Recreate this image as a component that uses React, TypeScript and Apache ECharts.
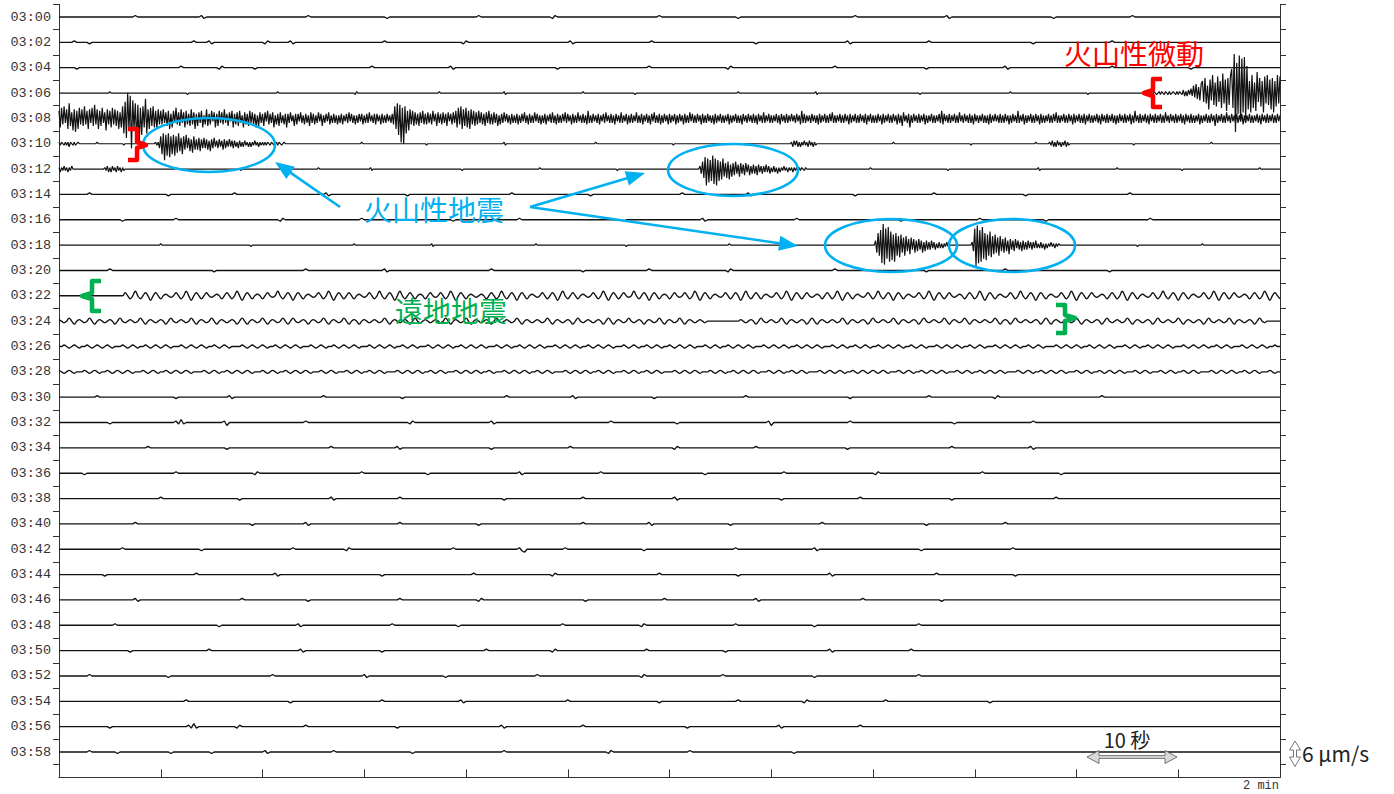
import React, { useEffect, useRef } from "react";
import * as echarts from "echarts";

// ---- DATA ---------------------------------------------------------------
// One trace every 2 minutes, 03:00 … 03:58
const TIME_LABELS = [
  "03:00", "03:02", "03:04", "03:06", "03:08", "03:10", "03:12", "03:14", "03:16", "03:18",
  "03:20", "03:22", "03:24", "03:26", "03:28", "03:30", "03:32", "03:34", "03:36", "03:38",
  "03:40", "03:42", "03:44", "03:46", "03:48", "03:50", "03:52", "03:54", "03:56", "03:58",
];

// Each trace covers 120 s. Samples read from the record, encoded as:
// '.' = 0, 'A'..'Z' = +1..+26 (upward), 'a'..'z' = -1..-26 (downward);
// a number after a character repeats it.
const TRACE_SECONDS = 120;
// samples per second of each trace (busy traces were read at a finer step)
const TRACE_RATES = [
  4, 4, 4, 8, 8, 8, 8, 4, 4, 8,
  4, 4, 4, 4, 4, 4, 4, 4, 4, 4,
  4, 4, 4, 4, 4, 4, 4, 4, 4, 4,
];

const T0300 = ".30A.25Aa.40A.30a.35A.28aA.40A.30a.45A.35Aa.40a.30A.40";
const T0302 = ".6A.5a.40A.5Aa.20aA.8Aa.35A.30aA.40Aa.30A.40a.35Aa.30A.40a.30A.40";
const T0304 = ".7a.40A.14aA.12a.45A.30Aa.40a.35A.30aA.40A.35a.30Aa.40A.30a.40";
const T0306 = [
  ".40A.60a.70A.60aA.64A.50Aa.60A.40a.80A.60Aa.80a.70A.60a.48",
  "A.aA.a.AaA.aA.aAa.A.aAaA.a", "BbAbBaCb", "EcFdDeF",
  "HfJgEkIeLhGiKfHjMgIlJhK", "PjZzTnYsWmXqR", "kHmLjGlNfJiHmKgLhIkJmHiLgK",
].join("");
const T0308 = [
  "EfGdHcFgJe", "DhFiEgGdFe", "HdEgFcGeId", "FgEeGcDhFd", "EfGdFeEgDf",
  "HjKmQhOtLg", "JpIrGkHfMj", "FgGeHfEgFd", "EdFcDeEgCf", "EcGdDeFcDf",
  "EdCeFdDgCe", "DcEfBdFeCd", "EbDfCeEcDd", "FcCeDbEfCd", "DeEcBfDdCe",
  "EcDdCfBeDc", "CeDbEdCcDf", "BdCeDcBdCf", "CcDbBeCdCb", "DcBdCcBeDc",
  "CdBcDbCeBc", "CbDdBcCcBd", "BcCdBbCcDb", "CcBdBcCbCd", "BcCcDbBcCd",
  "CbBdCcBcCb", "BcCdHgJkIp", "GqHjEhFdEe", "DdCeDcEdCd", "DcCdEbCeDc",
  "CdDcCeDbCd", "DcEfGdHgFe", "GfEgFdEeDd", "EcDdCeDcEd", "CdDcCeBdCc",
  "DbCcBdCcBc", "CdBcCbDcBd", "CcBcDbCcBd", "BcCdBbCcDc", "BdCcBcCbDc",
  "CbBdCcBcDb", "BcCcBdEcBc", "CbBcCdBbCc", "DbBcCcBdCb", "BcDcBbCdBc",
  "CcBbDcBcCd", "BbCcBdCbDc", "BcCdBcCbBd", "CcBbCdBcCb", "BdCcBcDbCc",
  "BcCbBdCcBc", "CbBcBdCcBb", "CcBcBbCdBc", "BbCcBcBdCb", "BcCbBcCcBd",
  "CbBcDcBbCc", "BcBbCcBdCb", "BcCcBbCbBc", "CbBdEcCcBb", "BcCbBcBdCc",
  "BbCcBcCbDc", "BcBbCcBcCb", "BdCcBbCcBc", "CbBcCdBbCc", "BcBcCbBdCc",
  "BbCcBcCbBd", "CcBeDbBcCf", "BcCbBcCcBb", "CdBcBbCcBc", "BbCcEdCbBc",
  "CcBbCcBcDb", "BcCbBcCcBd", "CbBcBbCcBc", "BdCcBbCbBc", "CcBcCbBdBc",
  "CbBcEcBbCd", "BcBbCcBcCb", "BdCcBcBbCc", "BcCbDcBcBb", "CcBcCbBdCc",
  "BbCcBcCdBb", "CcBcBbCcBd", "CbBcCcBbCc", "BdBcCbBcCc", "BbCdBcEbBc",
  "CcBbCcBdCb", "BcCcBbCcBc", "DbBcCbBcCc", "BbCcBdCbBc", "CcBcBbCdBc",
  "BbCcBcCbBe", "CcBbCcBcDb", "BcCbBcCcBb", "CdBcBbCcBc", "BbCcBdCbBc",
  "CcBbCcBcCb", "B",
].join("");
const T0310 = [
  "AaA.aAaAbA.aAa.A", ".14A.20a.24Aa",
  "AcEgGkFhGiEg", "FhEfGeDgEdFc", "DeCfEdCdDeCc", "DcCdBeCcDbBc",
  "CbBdCcBbCbBc", "BbAcBbAbBaAb", "AbAaBaAbAaAa", "AaA.aA.a.AaA.a.A",
  ".60A.50a.60Aa.70A.60a.92", "AbBaBbAbAaBaAbBaAbAa",
  ".60A.60a.50A.10", "AaBbAbBaAbAaBbAa", ".50a.60A.65",
].join("");
const T0312 = [
  "AbAaBaAbAaB.", ".24", "AaBbAbBaAbBaAbAa",
  ".40A.50a.60A.40Aa.70a.60A.60a.64",
  "BcEfHkGiFhIjGk", "FhEgGeDfEgCe", "DdEcCeDcCdDb", "CdBcCcBdCbBc",
  "BbCbBcAbBbAc", "AbAaBaAbAaAb", "AaAbAaA.aA",
  ".50A.60a.70Aa.60A.50a.60A.11",
].join("");
const T0314 = ".12A.30a.25A.35Aa.30a.40A.30a.35A.25Aa.40a.30A.35a.40A.30";
const T0316 = ".25a.20A.40aA.30A.35a.25A.40a.30Aa.35A.40a.30A.25a.40A.30";
const T0318 = [
  ".80A.70a.80A.60Aa.80A.70a.80A.114",
  "CeHgJlNmKiLk", "IjGkHgFhGe", "EgFdDfEcDe", "CdDcCeBdCc", "BcCbBcAbBb", "AbAaBa",
  ".18",
  "BdKnMlJkLiHj", "GgIhFfGeEgFd", "DeEdCfDcCdDb", "CcBdCcBcCbBc", "BbCbAbBbAcAb", "AaBaAbAaA.",
  ".60a.50A.62",
].join("");
const T0320 = ".20A.40a.35A.30Aa.40A.35a.25A.30aA.40A.35a.30A.40a.30";
const T0322 = [
  ".26",
  "B.b.C.b.B.c.B.b.A.a.B.b.C.c.B.b.B.a.A.b.",
  "B.b.C.c.B.b.A.b.B.a.C.b.B.c.B.b.A.a.B.b.",
  "C.c.B.b.B.b.A.a.B.b.C.b.B.c.C.b.B.b.A.b.",
  "B.a.B.b.C.c.B.b.A.a.A.b.B.b.C.b.B.c.B.b.",
  "A.a.B.b.B.c.C.b.B.b.A.a.B.b.C.c.B.b.B.a.",
  "C.b.B.c.B.b.A.b.B.a.B.b.C.c.B.b.A.a.B.b.",
  "B.c.C.b.B.b.A.a.B.b.C.c.B.b.B.a.A.b.B.b.",
  "C.c.B.b.A.a.B.b.C.b.B.c.B.b.A.a.B.b.C.c.",
  "B.b.B.a.A.b.B.b.C.c.B.b.A.a.B.b.C.b.B.c.",
  "B.b.A.a.B.b.C.c.B.b.B.a.A.b.B.b.C.c.B.b.",
  "A.a.B.b.C.b.B.c.B.b.A.a.B.b.C.c.B.b.B.a.",
  "A.b.B.b.C.c.B.b",
].join("");
const T0324 = [
  "A.a.B.b.A.a.B.b.A.a.A.b.B.a.A.a.B.b.A.a.",
  "A.b.B.a.A.a.B.b.A.a.B.b.A.a.A.b.B.b.A.a.",
  "B.b.A.a.B.b.B.a.A.b.A.a.B.b.A.a.B.b.A.b.",
  "A.a.A.a.B.b.A.a.A.b.B.a.A.a.A.a.B.b.A.a.",
  "B.b.A.a.A.b.B.a.A.a.B.b.A.a.A.a.B.b.A.a.",
  "A.b.B.a.A.a.A.b.B.b.A.a.B.a.A.b.A.a.B.b.",
  "A.a.B.b.A.a.A.a..12A.a.A.b.",
  "B.a.A.a.B.b.A.a.A.b.B.b.A.a.A.a.B.b.A.a.",
  "A.b.B.a.A.a.B.b.A.a.A.b.B.a.A.a.B.b.A.a.",
  "B.b.A.a.A.a.B.b.A.b.B.a.A.a.A.b.B.b.A.a.",
  "A.a.B.b.A.a.A.b.B.a.A.a.B.b.A.a.A.b.B.a.",
  "A.a.B.b.A.a.A.b.B.a.A.a.B.b.A.a.A.b.B.a.",
].join("");
const T0326 = [
  "..A.a.A.a..A.a.A.a.A.a...A.a.A.a..A.a.A.",
  "a.A.a...A.a.A.a.A.a..A.a.A.a....A.a.A.a.",
  "A.a..A.a.A.a.A.a...A.a.A.a..A.a.A.a.A.a.",
  "..A.a.A.a.A.a..A.a.A.a...A.a.A.a.A.a..A.",
  "a.A.a.A.a...A.a.A.a..A.a.A.a.A.a...A.a.A",
  ".a.A.a..A.a.A.a.A.a...A.a.A.a..A.a.A.a..",
  "A.a.A.a.A.a...A.a.A.a..A.a.A.a.A.a...A.a",
  ".A.a.A.a..A.a.A.a.A.a...A.a.A.a..A.a.A.a",
  "..A.a.A.a.A.a..A.a.A.a...A.a.A.a.A.a..A.",
  "a.A.a...A.a.A.a.A.a..A.a.A.a....A.a.A.a.",
  "A.a..A.a.A.a.A.a...A.a.A.a..A.a.A.a.A.a.",
  "..A.a.A.a.A.a..A.a.A.a...A.a.A.a.A.a..A.",
].join("");
const T0328 = [
  "A.a.A.a...A.a.A.a..A.a.A.a.A.a...A.a.A.a",
  "..A.a.A.a.A.a....A.a.A.a..A.a.A.a.A.a...",
  "A.a.A.a..A.a.A.a.A.a...A.a.A.a...A.a.A.a",
  "..A.a.A.a....A.a.A.a.A.a..A.a.A.a...A.a.",
  "A.a.A.a..A.a...A.a.A.a.A.a..A.a.A.a....A",
  ".a.A.a.A.a..A.a.A.a...A.a.A.a..A.a.A.a..",
  "..A.a.A.a.A.a...A.a.A.a..A.a.A.a.A.a...A",
  ".a.A.a..A.a.A.a....A.a.A.a.A.a..A.a.A.a.",
  "A.a.A.a...A.a.A.a..A.a.A.a.A.a...A.a.A.a",
  "..A.a.A.a.A.a....A.a.A.a..A.a.A.a.A.a...",
  "A.a.A.a..A.a.A.a.A.a...A.a.A.a...A.a.A.a",
  "..A.a.A.a....A.a.A.a.A.a..A.a.A.a...A.a.",
].join("");
const T0330 = ".15A.30a.20Aa.35A.30a.40A.25Aa.30a.35A.40a.30A.25aA.40A.30";
const T0332 = ".20a.25AaBa.15Ab.30A.40aA.30Aa.45A.25a.35Ab.30A.40a.30A.40";
const T0334 = ".35A.30a.40A.25Aa.35a.30A.40aA.30A.35a.40A.30Aa.40";
const T0336 = ".10a.35A.30aA.40A.25a.35Aa.30A.40a.30A.35aA.40A.30a.40";
const T0338 = ".40A.30a.35Aa.25A.40a.30A.35Aa.40a.30A.35a.40A.30";
const T0340 = ".30A.45a.20Aa.35A.30a.40A.25Aa.30a.35A.40a.30A.40";
const T0342 = ".25A.30a.35A.20aA.40A.25Aab.15A.30a.35A.30Aa.40a.35A.30";
const T0344 = ".18a.35A.30Aa.40a.35A.30aA.40A.30a.35Aa.40A.30a.40";
const T0346 = ".30Aa.40A.25a.35A.30aA.40a.30A.35Aa.40A.30a.35";
const T0348 = ".22A.40a.30Aa.35A.25a.40A.30aA.35A.30a.40A.35";
const T0350 = ".28a.30A.35Aa.30a.40A.25aA.35A.30a.40Aa.30A.40";
const T0352 = ".12A.30a.40A.35Aa.30a.35A.40aA.30A.35a.40A.30";
const T0354 = ".50A.40a.35A.30Aa.40A.35a.30A.25aA.30A.40a.30";
const T0356 = ".20a.30AaBa.15aA.25A.35a.40Aa.30A.40a.35Aa.30A.40";
const T0358 = ".12A.10a.20a.15a.20Aa.25A.30a.35A.40aA.30A.40a.30";

const TRACES = [
  T0300, T0302, T0304, T0306, T0308, T0310, T0312, T0314, T0316, T0318,
  T0320, T0322, T0324, T0326, T0328, T0330, T0332, T0334, T0336, T0338,
  T0340, T0342, T0344, T0346, T0348, T0350, T0352, T0354, T0356, T0358,
];

// ---- LAYOUT / STYLE -----------------------------------------------------
const W = 1394;
const H = 794;
const PLOT_LEFT = 59;
const PLOT_RIGHT = 1280;
const TRACE0_Y = 17;
const SPACING = 25.345;
const AMP_UNIT = 1.5 / SPACING; // one amplitude step ≈ 1.5 px
const MONO = '"Liberation Mono", "DejaVu Sans Mono", monospace';
const CJK = '"Noto Sans CJK JP", "Noto Sans", sans-serif';
const RED = "#ff0000";
const BLUE = "#00b0f0";
const GREEN = "#00b050";
const AXIS = "#333333";
const INK = "#121212";
const WAVY_TRACES = ["03:22", "03:24", "03:26", "03:28"];

function decode(s: string): number[] {
  const out: number[] = [];
  let i = 0;
  while (i < s.length) {
    const c = s[i];
    let j = i + 1;
    let num = "";
    while (j < s.length && s[j] >= "0" && s[j] <= "9") {
      num += s[j];
      j++;
    }
    const n = num ? parseInt(num, 10) : 1;
    let v = 0;
    if (c >= "A" && c <= "Z") v = c.charCodeAt(0) - 64;
    else if (c >= "a" && c <= "z") v = -(c.charCodeAt(0) - 96);
    for (let k = 0; k < n; k++) out.push(v);
    i = j;
  }
  return out;
}

function arrow(x1: number, y1: number, x2: number, y2: number, color: string) {
  const dx = x2 - x1;
  const dy = y2 - y1;
  const len = Math.hypot(dx, dy);
  const ux = dx / len;
  const uy = dy / len;
  const hl = 19;
  const hw = 7.5;
  const bx = x2 - ux * hl;
  const by = y2 - uy * hl;
  return [
    {
      type: "line",
      z: 100,
      shape: { x1, y1, x2: bx + ux * 2, y2: by + uy * 2 },
      style: { stroke: color, lineWidth: 2.6 },
    },
    {
      type: "polygon",
      z: 100,
      shape: {
        points: [
          [x2, y2],
          [bx - uy * hw, by + ux * hw],
          [bx + uy * hw, by - ux * hw],
        ],
      },
      style: { fill: color },
    },
  ];
}

function brace(points: number[][], color: string) {
  return {
    type: "polyline",
    z: 100,
    shape: { points },
    style: { stroke: color, lineWidth: 4.5, fill: "none", lineJoin: "round", lineCap: "butt" },
  };
}

function ellipse(cx: number, cy: number, rx: number, ry: number) {
  return {
    type: "ellipse",
    z: 100,
    shape: { cx, cy, rx, ry },
    style: { stroke: BLUE, lineWidth: 2.6, fill: "none" },
  };
}

function text(x: number, y: number, t: string, font: string, fill: string, align = "center") {
  return {
    type: "text",
    z: 110,
    x,
    y,
    style: { text: t, font, fill, align, verticalAlign: "middle" },
  };
}

export default function App() {
  const ref = useRef<HTMLDivElement>(null);

  useEffect(() => {
    if (!ref.current) return;
    const chart = echarts.init(ref.current, undefined, { renderer: "svg" });

    const gridTop = TRACE0_Y - 0.5 * SPACING;
    const plotW = PLOT_RIGHT - PLOT_LEFT;

    const series = TRACES.map((s, i) => {
      const v = decode(s);
      const rate = TRACE_RATES[i];
      const n = TRACE_SECONDS * rate;
      const data: number[][] = [];
      for (let k = 0; k <= n; k++) {
        const a = k < v.length ? v[k] : 0;
        data.push([k / rate, i - a * AMP_UNIT]);
      }
      const label = TIME_LABELS[i];
      const wavy = WAVY_TRACES.indexOf(label) >= 0;
      return {
        type: "line",
        name: label,
        xAxisIndex: 0,
        yAxisIndex: 0,
        data,
        showSymbol: false,
        symbol: "none",
        silent: true,
        clip: false,
        smooth: wavy ? 0.45 : false,
        lineStyle: { color: INK, width: rate > 4 ? 1.2 : 1.35 },
        z: 2,
      };
    });

    const hollowH = {
      type: "polygon",
      z: 100,
      shape: {
        points: [
          [1087, 757], [1099, 750.5], [1099, 755.6], [1165, 755.6], [1165, 750.5],
          [1177, 757], [1165, 763.5], [1165, 758.4], [1099, 758.4], [1099, 763.5],
        ],
      },
      style: { fill: "#d9d9d9", stroke: "#555", lineWidth: 0.8 },
    };
    const hollowV = {
      type: "polygon",
      z: 100,
      shape: {
        points: [
          [1295, 741], [1300.5, 750], [1296.5, 750], [1296.5, 757], [1300.5, 757],
          [1295, 766.5], [1289.5, 757], [1293.5, 757], [1293.5, 750], [1289.5, 750],
        ],
      },
      style: { fill: "#ffffff", stroke: "#555", lineWidth: 0.8 },
    };

    const graphics: any[] = [
      ellipse(209, 145, 66, 27),
      ellipse(733, 170, 65, 26),
      ellipse(891, 245.5, 66, 26.5),
      ellipse(1012, 245.5, 63, 26.5),
      ...arrow(340, 207, 275, 162, BLUE),
      ...arrow(530, 207, 645, 173, BLUE),
      ...arrow(530, 207, 798, 246, BLUE),
      brace([[128, 129], [137, 129], [137, 142], [146, 145], [137, 148], [137, 160], [128, 160]], RED),
      brace([[1162, 79], [1153, 79], [1153, 90], [1144, 93], [1153, 96], [1153, 107], [1162, 107]], RED),
      brace([[101, 281], [92, 281], [92, 293], [82, 296], [92, 299], [92, 311], [101, 311]], GREEN),
      brace([[1056, 305], [1065, 305], [1065, 315], [1075, 318], [1065, 321], [1065, 333], [1056, 333]], GREEN),
      text(1134, 53, "火山性微動", `28px ${CJK}`, RED),
      text(434, 209, "火山性地震", `28px ${CJK}`, BLUE),
      text(451, 310, "遠地地震", `28px ${CJK}`, GREEN),
      hollowH,
      hollowV,
      text(1127, 739, "10 秒", `20px ${CJK}`, "#222"),
      text(1302, 753, "6 μm/s", `21px ${CJK}`, "#222", "left"),
      text(1279, 786, "2 min", `12px ${MONO}`, AXIS, "right"),
    ];

    const option: any = {
      animation: false,
      backgroundColor: "#ffffff",
      grid: [
        { left: PLOT_LEFT, width: plotW, top: gridTop, height: 30.5 * SPACING },
        { left: PLOT_LEFT, width: plotW, top: gridTop, height: 30 * SPACING },
      ],
      xAxis: [
        {
          type: "value",
          gridIndex: 0,
          position: "bottom",
          min: 0,
          max: 120,
          interval: 10,
          axisLine: { show: true, onZero: false, lineStyle: { color: AXIS, width: 1 } },
          axisTick: { show: true, inside: true, length: 8, lineStyle: { color: AXIS } },
          axisLabel: { show: false },
          splitLine: { show: false },
        },
        { type: "value", gridIndex: 1, min: 0, max: 120, show: false },
      ],
      yAxis: [
        {
          type: "value",
          gridIndex: 0,
          position: "left",
          min: -0.5,
          max: 30,
          inverse: true,
          axisLine: { show: true, onZero: false, lineStyle: { color: AXIS, width: 1 } },
          axisTick: { show: false },
          axisLabel: { show: false },
          splitLine: { show: false },
        },
        {
          type: "value",
          gridIndex: 0,
          position: "right",
          min: -0.5,
          max: 30,
          inverse: true,
          axisLine: { show: true, onZero: false, lineStyle: { color: AXIS, width: 1 } },
          axisTick: { show: false },
          axisLabel: { show: false },
          splitLine: { show: false },
        },
        {
          type: "category",
          gridIndex: 1,
          position: "left",
          data: TIME_LABELS,
          inverse: true,
          boundaryGap: true,
          axisLine: { show: false, onZero: false },
          axisTick: { show: true, length: 6, interval: 0, alignWithLabel: false, lineStyle: { color: AXIS } },
          axisLabel: { show: true, interval: 0, margin: 8, color: AXIS, fontFamily: MONO, fontSize: 13.5 },
          splitLine: { show: false },
        },
        {
          type: "category",
          gridIndex: 1,
          position: "right",
          data: TIME_LABELS,
          inverse: true,
          boundaryGap: true,
          axisLine: { show: false, onZero: false },
          axisTick: { show: true, length: 6, interval: 0, alignWithLabel: false, lineStyle: { color: AXIS } },
          axisLabel: { show: false },
          splitLine: { show: false },
        },
      ],
      series,
      graphic: graphics,
    };

    chart.setOption(option);
    return () => {
      chart.dispose();
    };
  }, []);

  return (
    <div
      ref={ref}
      style={{ position: "fixed", left: 0, top: 0, width: W, height: H, background: "#fff" }}
    />
  );
}
